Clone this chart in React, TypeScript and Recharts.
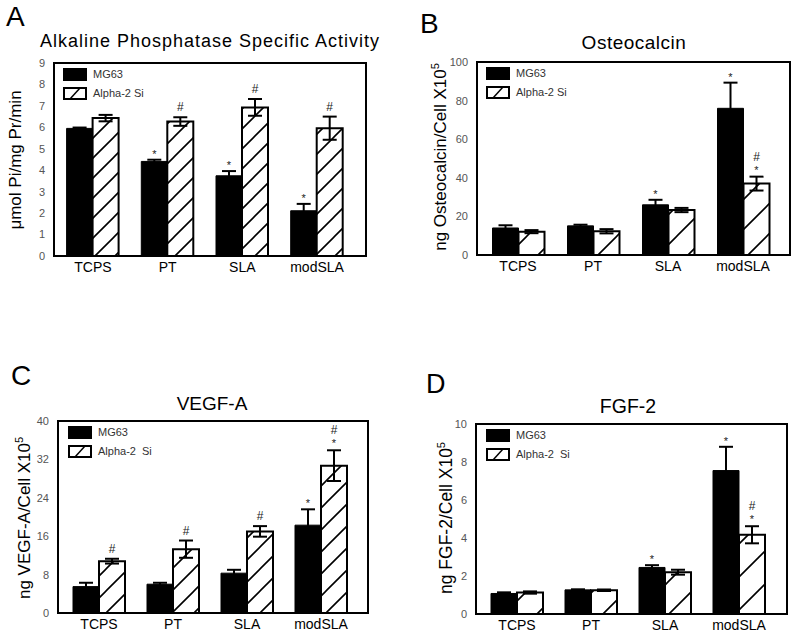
import React from "react";
import { BarChart, Bar, XAxis, YAxis, ErrorBar, LabelList, Legend } from "recharts";

const FONT = '"Liberation Sans", Arial, Helvetica, sans-serif';

const categories = ["TCPS", "PT", "SLA", "modSLA"];

// A - alkaline phosphatase
const alpMg = [5.95, 4.41, 3.74, 2.11];
const alpMgErr = [0.04, 0.08, 0.22, 0.32];
const alpSi = [6.43, 6.27, 6.93, 5.96];
const alpSiErr = [0.15, 0.2, 0.39, 0.54];
const alpMgMarks = ["", "*", "*", "*"];
const alpSiMarks = ["", "#", "#", "#"];
const alpTicks = [0, 1, 2, 3, 4, 5, 6, 7, 8, 9];

// B - osteocalcin
const ostMg = [14, 15.1, 26, 76];
const ostMgErr = [1.4, 0.6, 2.6, 13.3];
const ostSi = [12.1, 12.3, 23.3, 37];
const ostSiErr = [0.8, 1.1, 1.1, 3.6];
const ostMgMarks = ["", "", "*", "*"];
const ostSiMarks = ["", "", "", "#*"];
const ostTicks = [0, 20, 40, 60, 80, 100];

// C - VEGF-A
const vegMg = [5.5, 6.0, 8.3, 18.3];
const vegMgErr = [0.8, 0.3, 0.7, 3.3];
const vegSi = [10.8, 13.3, 17.0, 30.7];
const vegSiErr = [0.5, 1.8, 1.1, 3.2];
const vegMgMarks = ["", "", "", "*"];
const vegSiMarks = ["#", "#", "#", "#*"];
const vegTicks = [0, 8, 16, 24, 32, 40];

// D - FGF-2
const fgfMg = [1.08, 1.27, 2.45, 7.55];
const fgfMgErr = [0.06, 0.03, 0.12, 1.25];
const fgfSi = [1.13, 1.25, 2.2, 4.17];
const fgfSiErr = [0.06, 0.04, 0.13, 0.45];
const fgfMgMarks = ["", "", "*", "*"];
const fgfSiMarks = ["", "", "", "#*"];
const fgfTicks = [0, 2, 4, 6, 8, 10];

type Frame = { l: number; t: number; r: number; b: number };

const frames: Record<string, Frame> = {
  A: { l: 54, t: 63, r: 366, b: 256 },
  B: { l: 477, t: 62, r: 790, b: 255 },
  C: { l: 58, t: 421, r: 368, b: 613 },
  D: { l: 476, t: 424, r: 787, b: 614 },
};

interface PanelProps {
  id: string;
  padL: number;
  padR: number;
  ticks: number[];
  mg: number[];
  mgErr: number[];
  si: number[];
  siErr: number[];
  mgMarks: string[];
  siMarks: string[];
  hatch: number;
  legend: { x: number; y: number; alpha: string };
}

const markContent = (pxPerUnit: number) => (props: any) => {
  const { x, y, width, value } = props;
  if (!value) return null;
  const [mark, errStr] = String(value).split("|");
  if (!mark) return null;
  const top = Number(y) - Number(errStr) * pxPerUnit;
  const cx = Number(x) + Number(width) / 2;
  const style = { fontFamily: FONT, fill: "#222" };
  if (mark === "*") {
    return <text x={cx} y={top - 2} textAnchor="middle" fontSize={11} style={style}>*</text>;
  }
  if (mark === "#") {
    return <text x={cx} y={top - 6} textAnchor="middle" fontSize={12} style={style}>#</text>;
  }
  return (
    <g>
      <text x={cx} y={top - 16} textAnchor="middle" fontSize={12} style={style}>#</text>
      <text x={cx} y={top - 3} textAnchor="middle" fontSize={11} style={style}>*</text>
    </g>
  );
};

function LegendBox({ alpha }: { alpha: string }) {
  return (
    <div style={{ fontFamily: FONT, fontSize: 11, color: "#333", lineHeight: "13px" }}>
      <div style={{ display: "flex", alignItems: "center", height: 13, marginBottom: 6 }}>
        <svg width={24} height={13} style={{ display: "block" }}>
          <rect x={0} y={0} width={24} height={13} fill="#000" />
        </svg>
        <span style={{ marginLeft: 6, whiteSpace: "pre" }}>MG63</span>
      </div>
      <div style={{ display: "flex", alignItems: "center", height: 13 }}>
        <svg width={24} height={13} style={{ display: "block" }}>
          <rect x={1} y={1} width={22} height={11} fill="#fff" stroke="#000" strokeWidth={2} />
          <line x1={7} y1={12} x2={17} y2={1} stroke="#000" strokeWidth={1.5} />
        </svg>
        <span style={{ marginLeft: 6, whiteSpace: "pre" }}>{alpha}</span>
      </div>
    </div>
  );
}

function Panel(p: PanelProps) {
  const { l, t, r, b } = frames[p.id];
  const left = l - 40;
  const top = t - 6;
  const width = r - l + 46;
  const height = b - t + 34;
  const max = p.ticks[p.ticks.length - 1];
  const pxPerUnit = (b - t) / max;
  const pid = `hatch-${p.id}`;
  const s = p.hatch;
  const data = categories.map((name, i) => ({
    name,
    mg: p.mg[i],
    mgErr: p.mgErr[i],
    si: p.si[i],
    siErr: p.siErr[i],
    mgMark: p.mgMarks[i] ? `${p.mgMarks[i]}|${p.mgErr[i]}` : "",
    siMark: p.siMarks[i] ? `${p.siMarks[i]}|${p.siErr[i]}` : "",
  }));
  const frameLine = { stroke: "#000", strokeWidth: 2 };

  return (
    <div style={{ position: "absolute", left, top }}>
      <BarChart
        width={width}
        height={height}
        data={data}
        margin={{ top: 6, right: 6, left: 0, bottom: 0 }}
        barGap={0}
        barSize={26}
      >
        <defs>
          <pattern id={pid} patternUnits="userSpaceOnUse" width={s} height={s}>
            <rect width={s} height={s} fill="#fff" />
            <path
              d={`M0,${s} L${s},0 M${-s / 4},${s / 4} L${s / 4},${-s / 4} M${(s * 3) / 4},${(s * 5) / 4} L${(s * 5) / 4},${(s * 3) / 4}`}
              stroke="#000"
              strokeWidth={1.6}
            />
          </pattern>
        </defs>
        <XAxis
          dataKey="name"
          height={28}
          interval={0}
          padding={{ left: p.padL, right: p.padR }}
          axisLine={frameLine}
          tickLine={false}
          tickSize={0}
          tickMargin={6}
          tick={{ fill: "#000", fontSize: 14, fontFamily: FONT }}
        />
        <YAxis
          width={40}
          domain={[0, max]}
          ticks={p.ticks}
          interval={0}
          axisLine={frameLine}
          tickLine={false}
          tickSize={0}
          tickMargin={9}
          tick={{ fill: "#555", fontSize: 11, fontFamily: FONT }}
        />
        <Legend
          layout="vertical"
          verticalAlign="middle"
          align="center"
          wrapperStyle={{ left: p.legend.x - left, top: p.legend.y - top, width: "auto", height: "auto" }}
          content={() => <LegendBox alpha={p.legend.alpha} />}
        />
        <Bar dataKey="mg" name="MG63" fill="#000" stroke="#000" strokeWidth={1} isAnimationActive={false}>
          <ErrorBar dataKey="mgErr" width={7} stroke="#000" strokeWidth={2} />
          <LabelList dataKey="mgMark" content={markContent(pxPerUnit)} />
        </Bar>
        <Bar dataKey="si" name={p.legend.alpha} fill={`url(#${pid})`} stroke="#000" strokeWidth={2} isAnimationActive={false}>
          <ErrorBar dataKey="siErr" width={7} stroke="#000" strokeWidth={2} />
          <LabelList dataKey="siMark" content={markContent(pxPerUnit)} />
        </Bar>
      </BarChart>
    </div>
  );
}

function Sup5({ x, y, text, size }: { x: number; y: number; text: string; size: number }) {
  return (
    <text transform={`translate(${x},${y}) rotate(-90)`} textAnchor="middle" fontSize={size} fill="#000" style={{ fontFamily: FONT }}>
      {text}
      <tspan fontSize={11} dy={-7}>5</tspan>
    </text>
  );
}

export default function App() {
  const big = { fontFamily: FONT, fill: "#000" };
  return (
    <div style={{ position: "absolute", left: 0, top: 0, width: 800, height: 639, background: "#fff", overflow: "hidden" }}>
      <svg width={800} height={639} style={{ position: "absolute", left: 0, top: 0 }}>
        <text x={6} y={26} fontSize={28} style={big}>A</text>
        <text x={420} y={33} fontSize={28} style={big}>B</text>
        <text x={11} y={385} fontSize={28} style={big}>C</text>
        <text x={426} y={393} fontSize={27} style={big}>D</text>

        <text x={210} y={47} fontSize={18} letterSpacing={1} textAnchor="middle" style={big}>
          Alkaline Phosphatase Specific Activity
        </text>
        <text x={634} y={49} fontSize={19} letterSpacing={0.5} textAnchor="middle" style={big}>Osteocalcin</text>
        <text x={212} y={410} fontSize={19} textAnchor="middle" style={big}>VEGF-A</text>
        <text x={628} y={413} fontSize={19.5} textAnchor="middle" style={big}>FGF-2</text>

        <text transform="translate(21,160) rotate(-90)" textAnchor="middle" fontSize={17} style={big}>
          μmol Pi/mg Pr/min
        </text>
        <Sup5 x={446} y={157} text="ng Osteocalcin/Cell X10" size={17} />
        <Sup5 x={30} y={518} text="ng VEGF-A/Cell X10" size={17} />
        <Sup5 x={452} y={518} text="ng FGF-2/Cell X10" size={17.5} />
      </svg>

      <Panel
        id="A"
        padL={1.6}
        padR={11.6}
        ticks={alpTicks}
        mg={alpMg}
        mgErr={alpMgErr}
        si={alpSi}
        siErr={alpSiErr}
        mgMarks={alpMgMarks}
        siMarks={alpSiMarks}
        hatch={20}
        legend={{ x: 63, y: 68, alpha: "Alpha-2 Si" }}
      />
      <Panel
        id="B"
        padL={3.5}
        padR={9.5}
        ticks={ostTicks}
        mg={ostMg}
        mgErr={ostMgErr}
        si={ostSi}
        siErr={ostSiErr}
        mgMarks={ostMgMarks}
        siMarks={ostSiMarks}
        hatch={30}
        legend={{ x: 486, y: 67, alpha: "Alpha-2 Si" }}
      />
      <Panel
        id="C"
        padL={4}
        padR={10}
        ticks={vegTicks}
        mg={vegMg}
        mgErr={vegMgErr}
        si={vegSi}
        siErr={vegSiErr}
        mgMarks={vegMgMarks}
        siMarks={vegSiMarks}
        hatch={22}
        legend={{ x: 68, y: 426, alpha: "Alpha-2  Si" }}
      />
      <Panel
        id="D"
        padL={4}
        padR={11}
        ticks={fgfTicks}
        mg={fgfMg}
        mgErr={fgfMgErr}
        si={fgfSi}
        siErr={fgfSiErr}
        mgMarks={fgfMgMarks}
        siMarks={fgfSiMarks}
        hatch={33}
        legend={{ x: 486, y: 429, alpha: "Alpha-2  Si" }}
      />

      <svg width={800} height={639} style={{ position: "absolute", left: 0, top: 0, pointerEvents: "none" }}>
        {Object.keys(frames).map((k) => {
          const f = frames[k];
          return <rect key={k} x={f.l} y={f.t} width={f.r - f.l} height={f.b - f.t} fill="none" stroke="#000" strokeWidth={2} />;
        })}
      </svg>
    </div>
  );
}
